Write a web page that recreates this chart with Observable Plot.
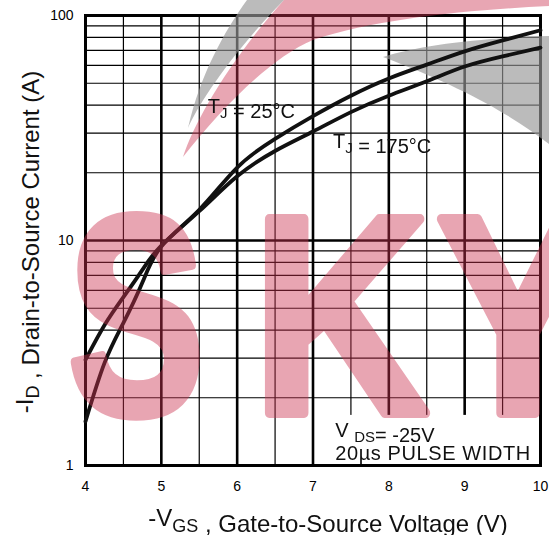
<!DOCTYPE html>
<html><head><meta charset="utf-8">
<script src="https://cdn.jsdelivr.net/npm/d3@7"></script>
<script src="https://cdn.jsdelivr.net/npm/@observablehq/plot@0.6"></script>
<style>body{margin:0;background:#fff} #chart svg{display:block}</style>
</head><body><div id="chart"></div>
<script>
// Data
const vgs   = [4, 4.25, 4.5, 4.75, 5, 5.5, 6, 6.5, 7, 7.5, 8, 8.5, 9, 9.5, 10];
const id25  = [1.57, 2.85, 4.3, 6.5, 9.4, 13.7, 21.1, 28.3, 35.7, 44, 52.5, 60.5, 69.3, 77.5, 86];
const id175 = [2.95, 4.2, 5.6, 7.4, 9.5, 13.5, 19.3, 25, 30.5, 37.2, 44, 51, 59.3, 65.8, 72];
const xTicks = [4, 5, 6, 7, 8, 9, 10];
const xHalf = [4.5, 5.5, 6.5, 7.5, 8.5, 9.5];
const yTicks = [1, 10, 100];
const yMinor = [2, 3, 4, 5, 6, 7, 8, 9, 20, 30, 40, 50, 60, 70, 80, 90];
const seriesNames = ["25°C", "175°C"];

const rows = [
  ...vgs.map((v, i) => ({v, id: id25[i], s: seriesNames[0]})),
  ...vgs.map((v, i) => ({v, id: id175[i], s: seriesNames[1]}))
];

const FONT = "Liberation Sans, Arial, Helvetica, sans-serif";

const plot = Plot.plot({
  width: 549, height: 535,
  marginLeft: 85, marginRight: 9, marginTop: 15, marginBottom: 70,
  style: {fontFamily: FONT, fontSize: "14px", color: "#000", background: "#fff", overflow: "visible"},
  x: {domain: [4, 10], ticks: xTicks, tickFormat: d => String(d), tickSize: 0, tickPadding: 16, label: null},
  y: {type: "log", domain: [1, 100], ticks: yTicks, tickFormat: d => String(d), tickSize: 0, tickPadding: 12, label: null},
  marks: [
    Plot.ruleX(xHalf, {stroke: "#000", strokeWidth: 1.2}),
    Plot.ruleX(xTicks, {stroke: "#000", strokeWidth: 2.6}),
    Plot.ruleY(yMinor, {stroke: "#000", strokeWidth: 1.2}),
    Plot.ruleY([10], {stroke: "#000", strokeWidth: 2.6}),
    Plot.rect([{x1: 7.22, x2: 10, y1: 1, y2: 1.67}], {x1: "x1", x2: "x2", y1: "y1", y2: "y2", fill: "#fff"}),
    Plot.frame({stroke: "#000", strokeWidth: 3}),
    Plot.line(rows, {x: "v", y: "id", z: "s", curve: "natural", stroke: "#111", strokeWidth: 3.8})
  ]
});

document.getElementById("chart").appendChild(plot);
const svg = d3.select(plot);
const sx = plot.scale("x"), sy = plot.scale("y");

// Watermark: grey swooshes under the curves
const grey = svg.insert("g", 'g[aria-label="line"]').attr("pointer-events", "none")
  .attr("fill", "#969696").attr("fill-opacity", 0.65);
grey.append("path").attr("d", "M188,128 C198,105 230,55 284,0 L247,0 C225,30 200,75 188,128 Z");
grey.append("path").attr("d", "M383,57 C420,45 480,38 549,36 L549,144 C515,118 470,90 383,57 Z");

// Watermark: pink swoosh and letters over the chart
const pinkC = "rgb(203,52,81)";
svg.append("path").attr("pointer-events", "none")
  .attr("d", "M183,157 C195,120 230,60 284,0 L549,0 L549,6 C470,10 380,18 313,40 C270,58 220,110 183,157 Z")
  .attr("fill", pinkC).attr("fill-opacity", 0.44);
const letters = svg.append("g").attr("pointer-events", "none").attr("opacity", 0.44);
[["S", 68.5, 0.72], ["K", 253, 0.86], ["Y", 437, 0.86]].forEach(([ch, x, k]) => {
  letters.append("text").text(ch)
    .attr("transform", `translate(${x},413) scale(${k},1)`)
    .attr("text-anchor", "start")
    .attr("font-family", FONT).attr("font-weight", "bold").attr("font-size", 282)
    .attr("fill", pinkC).attr("stroke", pinkC).attr("stroke-width", 10).attr("stroke-linejoin", "round");
});

// Annotations with subscripts
function subText(x, y, size, parts, anchor) {
  const t = svg.append("text").attr("x", x).attr("y", y)
    .attr("font-family", FONT).attr("font-size", size).attr("fill", "#111")
    .attr("text-anchor", anchor || "start");
  parts.forEach(([str, sub]) => {
    if (sub) t.append("tspan").attr("dy", size * 0.25).attr("font-size", size * 0.75).text(str);
    else t.append("tspan").attr("dy", t.node().childNodes.length && t.node().lastChild.getAttribute("font-size") ? -size * 0.25 : 0).text(str);
  });
  return t;
}
subText(sx.apply(5.62), sy.apply(36.7), 20, [["T"], ["J", true], [" = 25°C"]]);
subText(sx.apply(7.27), sy.apply(25.6), 20, [["T"], ["J", true], [" = 175°C"]]);
subText(sx.apply(7.30), sy.apply(1.33), 20, [["V "], ["DS", true], ["= -25V"]]);
subText(sx.apply(7.30), sy.apply(1.05), 20, [["20µs PULSE WIDTH"]]).attr("letter-spacing", 0.6);

// Axis titles
subText(328, 526, 24, [["-V"], ["GS", true], [" , Gate-to-Source Voltage (V)"]], "middle");
subText(0, 0, 24, [["-I"], ["D", true], [" , Drain-to-Source Current (A)"]], "middle")
  .attr("transform", "translate(33,242) rotate(-90)");
</script>
</body></html>
